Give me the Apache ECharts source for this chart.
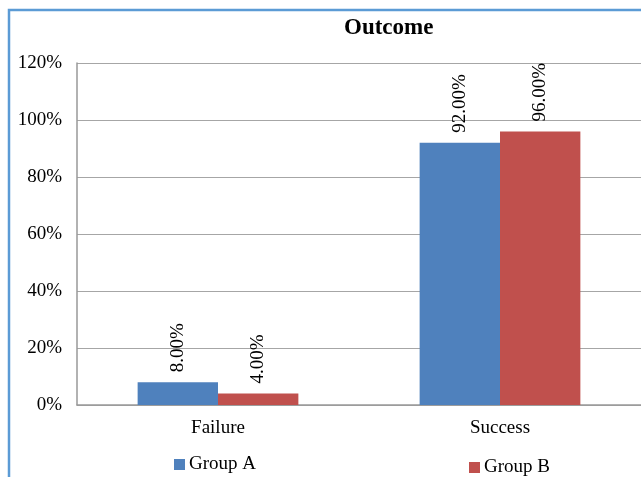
<!DOCTYPE html>
<html>
<head>
<meta charset="utf-8">
<script src="https://cdn.jsdelivr.net/npm/echarts@6/dist/echarts.min.js"></script>
<style>
  html, body { margin: 0; padding: 0; background: #fff; }
  #chart { width: 641px; height: 477px; }
</style>
</head>
<body>
<div id="chart"></div>
<script>
var chartDom = document.getElementById("chart");
var myChart = echarts.init(chartDom);

// data
const categories = ["Failure", "Success"];
const groupA = [0.08, 0.92];
const groupB = [0.04, 0.96];
const seriesNames = ["Group A", "Group B"];

const serif = "Liberation Serif";

const pct = function (v) {
  return (v * 100).toFixed(0) + "%";
};

const barLabel = {
  show: true,
  position: "top",
  distance: 10,
  rotate: 90,
  align: "left",
  verticalAlign: "middle",
  fontFamily: serif,
  fontSize: 19,
  color: "#000",
  formatter: function (p) {
    return (p.value * 100).toFixed(2) + "%";
  }
};

var option = {
  animation: false,
  backgroundColor: "#fff",
  title: {
    text: "Outcome",
    left: 344,
    top: 17,
    textStyle: {
      fontFamily: serif,
      fontSize: 23,
      fontWeight: "bold",
      color: "#000"
    },
    padding: 0
  },
  graphic: [
    {
      type: "rect",
      shape: { x: 9, y: 10, width: 700, height: 520 },
      style: { fill: "none", stroke: "#5B9BD5", lineWidth: 2.5 },
      silent: true
    }
  ],
  legend: [
    {
      data: [seriesNames[0]],
      left: 169,
      top: 450,
      itemWidth: 11,
      itemHeight: 11,
      itemGap: 4,
      icon: "rect",
      textStyle: { fontFamily: serif, fontSize: 19, color: "#000", padding: [0, 0, 0, -1] }
    },
    {
      data: [seriesNames[1]],
      left: 464,
      top: 453,
      itemWidth: 11,
      itemHeight: 11,
      icon: "rect",
      textStyle: { fontFamily: serif, fontSize: 19, color: "#000", padding: [0, 0, 0, -1] }
    }
  ],
  grid: {
    left: 77,
    right: -4,
    top: 63,
    bottom: 72,
    containLabel: false
  },
  xAxis: {
    type: "category",
    data: categories,
    axisTick: { show: false },
    axisLine: { lineStyle: { color: "#999", width: 1.5 } },
    axisLabel: {
      margin: 14,
      fontFamily: serif,
      fontSize: 19,
      color: "#000"
    }
  },
  yAxis: {
    type: "value",
    min: 0,
    max: 1.2,
    interval: 0.2,
    axisLine: { show: true, lineStyle: { color: "#999", width: 1.5 } },
    axisTick: { show: false },
    splitLine: { lineStyle: { color: "#a6a6a6", width: 1.2 } },
    axisLabel: {
      margin: 15,
      fontFamily: serif,
      fontSize: 19,
      color: "#000",
      formatter: pct
    }
  },
  series: [
    {
      name: seriesNames[0],
      type: "bar",
      data: groupA,
      barGap: "0%",
      barCategoryGap: "43%",
      itemStyle: { color: "#4F81BD" },
      label: barLabel
    },
    {
      name: seriesNames[1],
      type: "bar",
      data: groupB,
      itemStyle: { color: "#C0504D" },
      label: barLabel
    }
  ]
};

option && myChart.setOption(option);
</script>
</body>
</html>
